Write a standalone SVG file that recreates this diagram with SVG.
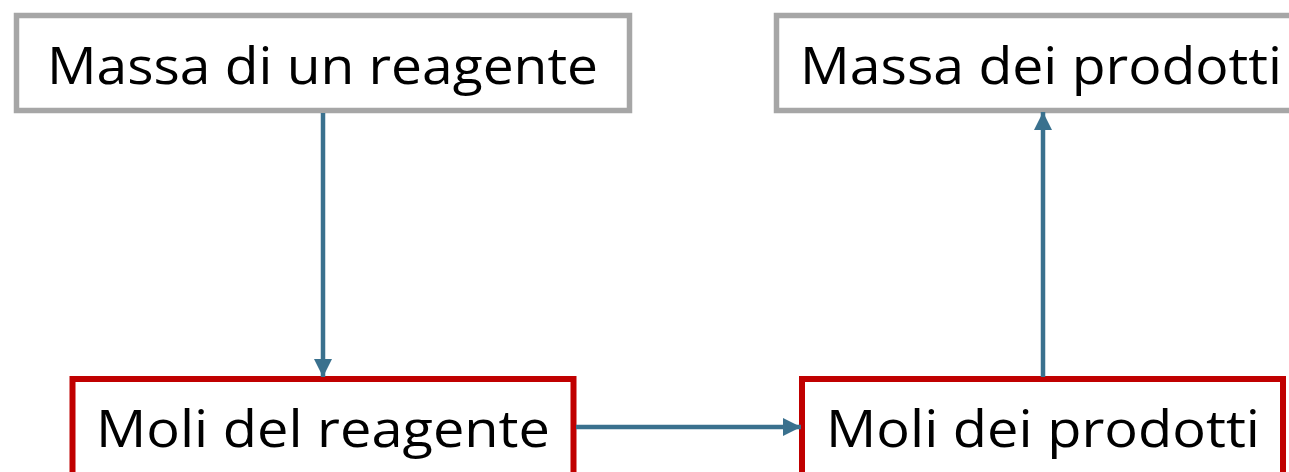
<svg xmlns="http://www.w3.org/2000/svg" width="1289" height="472" viewBox="0 0 1289 472">
<style>
.gray{fill:#fff;stroke:#a6a6a6;stroke-width:5.5}
.red{fill:#fff;stroke:#c00000;stroke-width:6}
.lbl{font-family:"Open Sans","Noto Sans","Liberation Sans",sans-serif;font-size:52px;fill:#000}
.con{stroke:#3a718e;stroke-width:4.5;fill:none}
</style>
<defs>
<marker id="ah" viewBox="0 0 10 10" refX="10" refY="5" markerWidth="4" markerHeight="4" orient="auto" markerUnits="strokeWidth">
<path d="M0,0 L10,5 L0,10 z" fill="#3a718e"/>
</marker>
</defs>
<g id="n1"><rect class="gray" x="16.5" y="15.5" width="613" height="95"/><text class="lbl" x="47" y="84" textLength="551" lengthAdjust="spacingAndGlyphs">Massa di un reagente</text></g>
<g id="n2"><rect class="gray" x="776.5" y="15.5" width="540" height="95"/><text class="lbl" x="800" y="84" textLength="482" lengthAdjust="spacingAndGlyphs">Massa dei prodotti</text></g>
<g id="n3"><rect class="red" x="72.5" y="379" width="501" height="130"/><text class="lbl" x="96" y="447" textLength="454" lengthAdjust="spacingAndGlyphs">Moli del reagente</text></g>
<g id="n4"><rect class="red" x="802" y="379" width="481" height="130"/><text class="lbl" x="826" y="447" textLength="434" lengthAdjust="spacingAndGlyphs">Moli dei prodotti</text></g>
<g id="connectors">
<line class="con" x1="323" y1="113" x2="323" y2="377" marker-end="url(#ah)"/>
<line class="con" x1="576" y1="427" x2="801" y2="427" marker-end="url(#ah)"/>
<line class="con" x1="1043" y1="377" x2="1043" y2="112" marker-end="url(#ah)"/>
</g>
</svg>
